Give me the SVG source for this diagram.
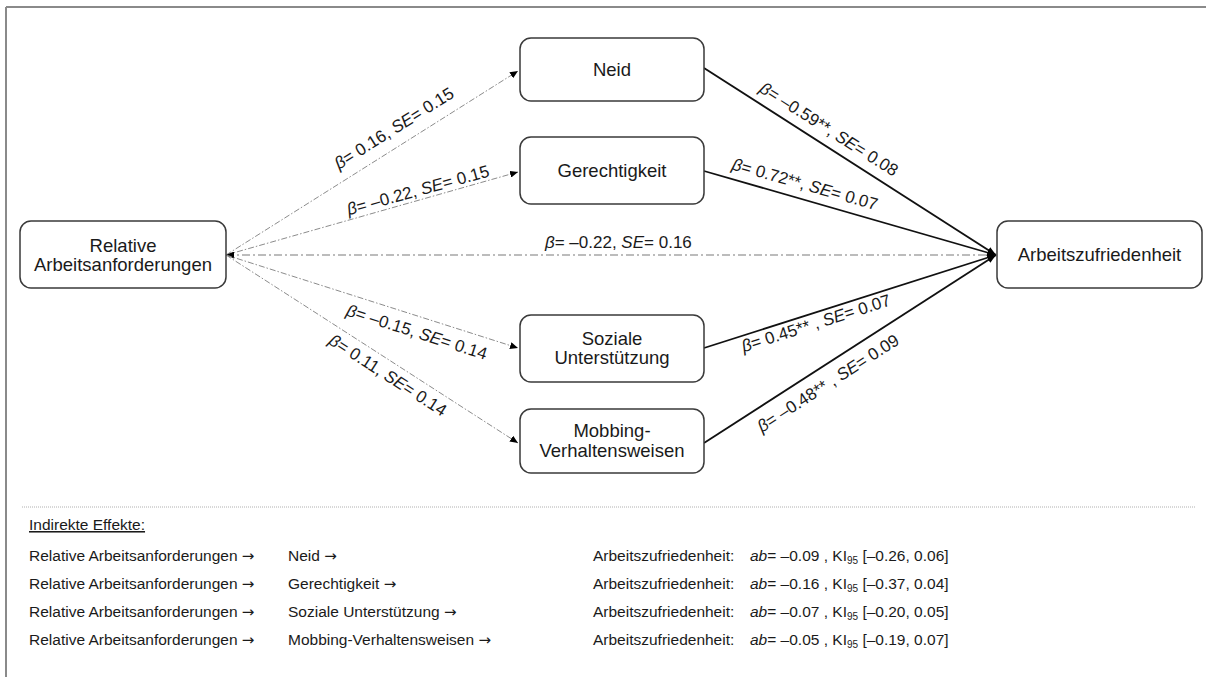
<svg xmlns="http://www.w3.org/2000/svg" width="1206" height="677" viewBox="0 0 1206 677">
<style>
text{font-family:"Liberation Sans",Arial,sans-serif;fill:#1a1a1a}
.node rect{fill:#fff;stroke:#3a3a3a;stroke-width:1.5}
.nt{font-size:18.5px;text-anchor:middle}
.lbl{font-size:17px;text-anchor:middle}
.it{font-style:italic}
.dash{fill:none;stroke:#8c8c8c;stroke-width:1;stroke-dasharray:6 2 1.5 2}
.direct{fill:none;stroke:#a6a6a6;stroke-width:1.5;stroke-dasharray:8 3 2 3}
.solid{fill:none;stroke:#111;stroke-width:1.8}
.bt{font-size:15.5px}
.sub{font-size:10px}
.arr{font-family:"DejaVu Sans",sans-serif;font-size:15px}
</style>
<defs>
<marker id="ah" markerUnits="userSpaceOnUse" markerWidth="9" markerHeight="7" refX="8" refY="3.5" orient="auto-start-reverse">
<path d="M0,0 L8,3.5 L0,7 z" fill="#000"/>
</marker>
<marker id="ahs" markerUnits="userSpaceOnUse" markerWidth="10" markerHeight="8" refX="9" refY="4" orient="auto">
<path d="M0,0.5 L9,4 L0,7.5 z" fill="#000"/>
</marker>
</defs>
<rect width="1206" height="677" fill="#fff"/>
<g id="frame">
<line x1="6" y1="7" x2="1206" y2="7" stroke="#8a8a8a" stroke-width="2"/>
<line x1="6" y1="7" x2="6" y2="677" stroke="#8a8a8a" stroke-width="2"/>
<line x1="22" y1="507" x2="1195" y2="507" stroke="#b0b0b0" stroke-width="1" stroke-dasharray="1 1"/>
</g>
<g id="connectors">
<line class="dash" x1="226" y1="255" x2="518" y2="71" marker-end="url(#ah)"/>
<line class="dash" x1="226" y1="255" x2="518" y2="172" marker-end="url(#ah)"/>
<line class="direct" x1="226" y1="255" x2="996" y2="255" marker-start="url(#ah)" marker-end="url(#ah)"/>
<line class="dash" x1="226" y1="255" x2="518" y2="348" marker-end="url(#ah)"/>
<line class="dash" x1="226" y1="255" x2="518" y2="443" marker-end="url(#ah)"/>
<line class="solid" x1="704" y1="68" x2="996" y2="255" marker-end="url(#ahs)"/>
<line class="solid" x1="704" y1="171" x2="996" y2="255" marker-end="url(#ahs)"/>
<line class="solid" x1="704" y1="348" x2="996" y2="255" marker-end="url(#ahs)"/>
<line class="solid" x1="704" y1="443" x2="996" y2="255" marker-end="url(#ahs)"/>
<g id="edge-labels">
<text class="lbl" transform="translate(394,128) rotate(-32.2)" dy="0.35em"><tspan class="it">β</tspan>= 0.16, <tspan class="it">SE</tspan>= 0.15</text>
<text class="lbl" transform="translate(418,190) rotate(-15.5)" dy="0.35em"><tspan class="it">β</tspan>= –0.22, <tspan class="it">SE</tspan>= 0.15</text>
<text class="lbl" x="545" y="248" style="text-anchor:start"><tspan class="it">β</tspan>= –0.22, <tspan class="it">SE</tspan>= 0.16</text>
<text class="lbl" transform="translate(417,332) rotate(17.7)" dy="0.35em"><tspan class="it">β</tspan>= –0.15, <tspan class="it">SE</tspan>= 0.14</text>
<text class="lbl" transform="translate(388,375) rotate(32.8)" dy="0.35em"><tspan class="it">β</tspan>= 0.11, <tspan class="it">SE</tspan>= 0.14</text>
<text class="lbl" transform="translate(829,129) rotate(32.4)" dy="0.35em"><tspan class="it">β</tspan>= –0.59**, <tspan class="it">SE</tspan>= 0.08</text>
<text class="lbl" transform="translate(805,184) rotate(15.8)" dy="0.35em"><tspan class="it">β</tspan>= 0.72**, <tspan class="it">SE</tspan>= 0.07</text>
<text class="lbl" transform="translate(816,323) rotate(-17.7)" dy="0.35em"><tspan class="it">β</tspan>= 0.45** , <tspan class="it">SE</tspan>= 0.07</text>
<text class="lbl" transform="translate(828,383) rotate(-32.9)" dy="0.35em"><tspan class="it">β</tspan>= –0.48** , <tspan class="it">SE</tspan>= 0.09</text>
</g>
</g>
<g id="node-relative" class="node">
<rect x="20" y="221" width="206" height="67" rx="11"/>
<text class="nt" x="123" y="252">Relative</text>
<text class="nt" x="123" y="271">Arbeitsanforderungen</text>
</g>
<g id="node-neid" class="node">
<rect x="520" y="38" width="184" height="63" rx="11"/>
<text class="nt" x="612" y="76">Neid</text>
</g>
<g id="node-gerechtigkeit" class="node">
<rect x="520" y="137" width="184" height="67" rx="11"/>
<text class="nt" x="612" y="177">Gerechtigkeit</text>
</g>
<g id="node-soziale" class="node">
<rect x="520" y="315" width="184" height="67" rx="11"/>
<text class="nt" x="612" y="345">Soziale</text>
<text class="nt" x="612" y="364">Unterstützung</text>
</g>
<g id="node-mobbing" class="node">
<rect x="520" y="409" width="184" height="64" rx="11"/>
<text class="nt" x="612" y="437">Mobbing-</text>
<text class="nt" x="612" y="457">Verhaltensweisen</text>
</g>
<g id="node-arbeitszufriedenheit" class="node">
<rect x="997" y="221" width="205" height="67" rx="11"/>
<text class="nt" x="1099.5" y="261">Arbeitszufriedenheit</text>
</g>
<g id="indirect-effects">
<text class="bt" x="29" y="530" text-decoration="underline">Indirekte Effekte:</text>
<text class="bt" x="29" y="561">Relative Arbeitsanforderungen <tspan class="arr">→</tspan></text>
<text class="bt" x="288" y="561">Neid <tspan class="arr">→</tspan></text>
<text class="bt" x="593" y="561">Arbeitszufriedenheit:</text>
<text class="bt" x="750" y="561"><tspan class="it">ab</tspan>= –0.09 , KI<tspan class="sub" dy="3">95</tspan><tspan dy="-3"> [–0.26, 0.06]</tspan></text>
<text class="bt" x="29" y="589">Relative Arbeitsanforderungen <tspan class="arr">→</tspan></text>
<text class="bt" x="288" y="589">Gerechtigkeit <tspan class="arr">→</tspan></text>
<text class="bt" x="593" y="589">Arbeitszufriedenheit:</text>
<text class="bt" x="750" y="589"><tspan class="it">ab</tspan>= –0.16 , KI<tspan class="sub" dy="3">95</tspan><tspan dy="-3"> [–0.37, 0.04]</tspan></text>
<text class="bt" x="29" y="617">Relative Arbeitsanforderungen <tspan class="arr">→</tspan></text>
<text class="bt" x="288" y="617">Soziale Unterstützung <tspan class="arr">→</tspan></text>
<text class="bt" x="593" y="617">Arbeitszufriedenheit:</text>
<text class="bt" x="750" y="617"><tspan class="it">ab</tspan>= –0.07 , KI<tspan class="sub" dy="3">95</tspan><tspan dy="-3"> [–0.20, 0.05]</tspan></text>
<text class="bt" x="29" y="645">Relative Arbeitsanforderungen <tspan class="arr">→</tspan></text>
<text class="bt" x="288" y="645">Mobbing-Verhaltensweisen <tspan class="arr">→</tspan></text>
<text class="bt" x="593" y="645">Arbeitszufriedenheit:</text>
<text class="bt" x="750" y="645"><tspan class="it">ab</tspan>= –0.05 , KI<tspan class="sub" dy="3">95</tspan><tspan dy="-3"> [–0.19, 0.07]</tspan></text>
</g>
</svg>
